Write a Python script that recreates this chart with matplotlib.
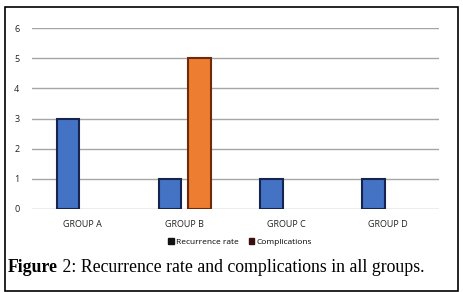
import numpy as np
import matplotlib.pyplot as plt
from matplotlib.patches import Rectangle, Patch

groups = ['GROUP A', 'GROUP B', 'GROUP C', 'GROUP D']
recurrence = [3, 1, 1, 1]
complications = [0, 5, 0, 0]
yticks = [0, 1, 2, 3, 4, 5, 6]

fig = plt.figure(figsize=(4.64, 2.92), dpi=100)
ax = fig.add_axes([32/464, 83/292, 407/464, 181/292])

x = np.arange(len(groups))
w = 0.22
lw_r = [1.5 if v > 0 else 0 for v in recurrence]
lw_c = [1.5 if v > 0 else 0 for v in complications]
ax.bar(x - 0.145, recurrence, w, color='#4472C4', edgecolor='#17244f', linewidth=lw_r, zorder=3)
ax.bar(x + 0.145, complications, w, color='#ED7D31', edgecolor='#6e2a0b', linewidth=lw_c, zorder=3)

ax.set_xlim(-0.5, 3.5)
ax.set_ylim(0, 6)
ax.set_yticks(yticks)
ax.set_xticks(x)
ax.set_xticklabels(groups)
ax.grid(axis='y', color='#a6a6a6', linewidth=1.0, zorder=0)
for s in ax.spines.values():
    s.set_visible(False)
ax.tick_params(length=0, labelsize=6.5, colors='#222222', pad=9)
ax.tick_params(axis='x', pad=8)
for t in ax.get_xticklabels() + ax.get_yticklabels():
    t.set_family('Open Sans')

handles = [Patch(color='#111111'), Patch(color='#3b0f0f')]
fig.legend(handles, ['Recurrence rate', 'Complications'], loc='center', bbox_to_anchor=(240/464, 1 - 242/292),
           ncol=2, frameon=False, handlelength=0.7, handleheight=0.7,
           handletextpad=0.2, columnspacing=1.2, prop={'family': 'Open Sans', 'size': 6})

t1 = fig.text(8/464, 1 - 268/292, 'Figure', fontsize=12.8, family='Liberation Serif', weight='bold', va='center')
fig.canvas.draw()
bb = t1.get_window_extent()
fig.text(bb.x1 / 464, 1 - 268/292, ' 2: Recurrence rate and complications in all groups.', fontsize=12.8,
         family='Liberation Serif', va='center')

fig.patches.append(Rectangle((5/464, 1/292), 453/464, 284/292, transform=fig.transFigure,
                             fill=False, edgecolor='black', linewidth=1.2))

fig.savefig('out.png', dpi=100)
